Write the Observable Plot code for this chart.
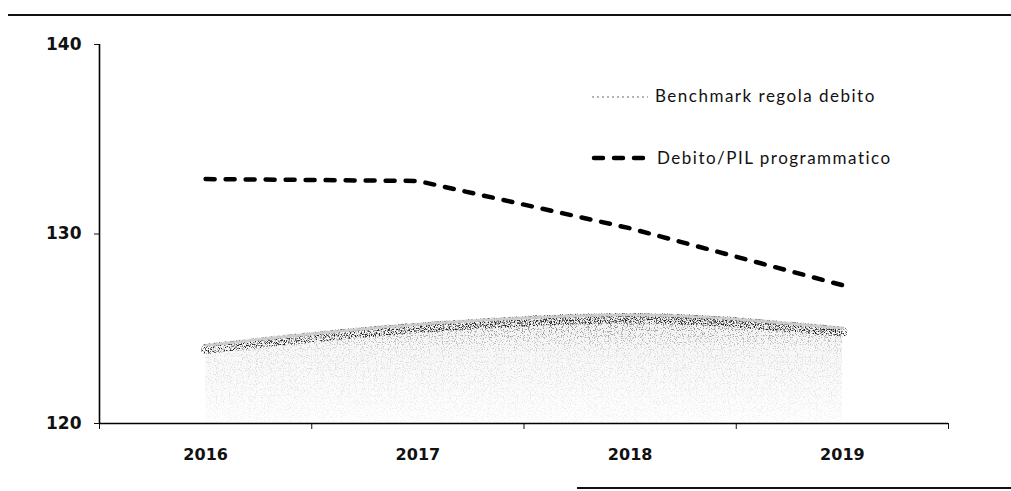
<!DOCTYPE html>
<html>
<head>
<meta charset="utf-8">
<script src="https://cdn.jsdelivr.net/npm/d3@7"></script>
<script src="https://cdn.jsdelivr.net/npm/@observablehq/plot@0.6"></script>
<style>
  html, body { margin: 0; padding: 0; background: #fff; }
  #wrap { position: relative; width: 1011px; height: 491px; overflow: hidden; }
  #wrap svg { display: block; }
  .rule { position: absolute; background: #111; height: 2px; }
  .leg { position: absolute; font-family: Lato, "Open Sans", sans-serif; font-size: 17px; color: #111; letter-spacing: 1.5px; line-height: 20px; white-space: nowrap; }
  .sw { position: absolute; }
</style>
</head>
<body>
<div id="wrap"></div>
<script>
// ---- data ----
const years = [2016, 2017, 2018, 2019];
const benchmark = [124.2, 125.3, 125.8, 125.1];        // Benchmark regola debito
const debitoPil = [132.9, 132.8, 130.3, 127.3];        // Debito/PIL programmatico
const yTicks = [120, 130, 140];
const seriesNames = ["Benchmark regola debito", "Debito/PIL programmatico"];

(function () {
const rows = years.map((year, i) => ({year, benchmark: benchmark[i], debito: debitoPil[i]}));
const bounds = [years[0] - 0.5, ...years.map(y => y + 0.5)];
const yMin = yTicks[0], yMax = yTicks[yTicks.length - 1];

const chart = Plot.plot({
  width: 1011,
  height: 491,
  marginLeft: 99,
  marginRight: 63,
  marginTop: 44,
  marginBottom: 68,
  style: {fontFamily: "DejaVu Sans", fontWeight: "bold", fontSize: "16px", color: "#111", background: "#fff"},
  x: {type: "linear", domain: [bounds[0], bounds[bounds.length - 1]]},
  y: {domain: [yMin, yMax]},
  marks: [
    // light base of the stippled benchmark area
    Plot.areaY(rows, {x: "year", y1: yMin, y2: "benchmark", fill: "url(#stipBase)", curve: "monotone-x"}),
    // speckled darker layer (grain filter applied afterwards)
    Plot.areaY(rows, {x: "year", y1: yMin, y2: "benchmark", fill: "url(#stipDark)", curve: "monotone-x"}),
    Plot.lineY(rows, {x: "year", y: "benchmark", stroke: "#222222", strokeWidth: 10, dy: 5, curve: "monotone-x"}),
    Plot.lineY(rows, {x: "year", y: "benchmark", stroke: "#cccccc", strokeWidth: 2.5, dy: 1.5, curve: "monotone-x"}),
    // Debito/PIL programmatico
    Plot.lineY(rows, {x: "year", y: "debito", stroke: "#000", strokeWidth: 4.5, strokeDasharray: "9,11", strokeLinecap: "round"}),
    Plot.axisY({ticks: yTicks, tickSize: 5, tickPadding: 13, fontSize: 17, tickFormat: d => String(d), label: null}),
    Plot.axisX({ticks: years, tickSize: 0, tickPadding: 25, tickFormat: d => String(d), label: null}),
    Plot.axisX({ticks: bounds, tickSize: 6, tickFormat: () => "", label: null}),
    Plot.ruleX([bounds[0]], {y1: yMin, y2: yMax, stroke: "#000", strokeWidth: 1.6}),
    Plot.ruleY([yMin], {stroke: "#000", strokeWidth: 1.6})
  ]
});

const svg = d3.select(chart);
svg.insert("defs", ":first-child").html(`
  <linearGradient id="stipBase" x1="0" y1="0" x2="0" y2="1">
    <stop offset="0" stop-color="#efefef"/>
    <stop offset="0.3" stop-color="#f7f7f7"/>
    <stop offset="1" stop-color="#fefefe"/>
  </linearGradient>
  <linearGradient id="stipDark" x1="0" y1="0" x2="0" y2="1">
    <stop offset="0" stop-color="#333" stop-opacity="1"/>
    <stop offset="0.12" stop-color="#444" stop-opacity="0.6"/>
    <stop offset="0.35" stop-color="#666" stop-opacity="0.2"/>
    <stop offset="1" stop-color="#777" stop-opacity="0.07"/>
  </linearGradient>
  <filter id="grain" x="-5%" y="-30%" width="110%" height="160%" color-interpolation-filters="sRGB">
    <feTurbulence type="fractalNoise" baseFrequency="0.8" numOctaves="2" seed="7" result="noise"/>
    <feColorMatrix in="noise" type="matrix" values="0 0 0 0 0  0 0 0 0 0  0 0 0 0 0  6 0 0 0 -3.0" result="mask"/>
    <feComposite in="SourceGraphic" in2="mask" operator="in"/>
  </filter>
  <filter id="grainSparse" x="-5%" y="-10%" width="110%" height="120%" color-interpolation-filters="sRGB">
    <feTurbulence type="fractalNoise" baseFrequency="0.85" numOctaves="2" seed="3" result="noise"/>
    <feColorMatrix in="noise" type="matrix" values="0 0 0 0 0  0 0 0 0 0  0 0 0 0 0  8 0 0 0 -4.4" result="mask"/>
    <feComposite in="SourceGraphic" in2="mask" operator="in"/>
  </filter>`);
svg.selectAll('[fill="url(#stipDark)"]').attr("filter", "url(#grainSparse)");
svg.selectAll('[stroke="#222222"]').attr("filter", "url(#grain)");

const wrap = document.getElementById("wrap");
wrap.appendChild(chart);

// decorative rules of the page scan
const ruleTop = document.createElement("div");
ruleTop.className = "rule"; ruleTop.style.left = "8px"; ruleTop.style.right = "0"; ruleTop.style.top = "14px";
wrap.appendChild(ruleTop);
const ruleBot = document.createElement("div");
ruleBot.className = "rule"; ruleBot.style.left = "577px"; ruleBot.style.right = "0"; ruleBot.style.top = "487px";
wrap.appendChild(ruleBot);

// legend
const leg1 = document.createElement("div");
leg1.className = "leg"; leg1.style.left = "655px"; leg1.style.top = "86px"; leg1.textContent = seriesNames[0];
wrap.appendChild(leg1);
const leg2 = document.createElement("div");
leg2.className = "leg"; leg2.style.left = "657px"; leg2.style.top = "148px"; leg2.textContent = seriesNames[1];
wrap.appendChild(leg2);

const sw1 = document.createElementNS("http://www.w3.org/2000/svg", "svg");
sw1.setAttribute("class", "sw"); sw1.setAttribute("width", 60); sw1.setAttribute("height", 10);
sw1.style.left = "590px"; sw1.style.top = "92px";
sw1.innerHTML = `<line x1="2" x2="58" y1="5" y2="5" stroke="#b5b5b5" stroke-width="2" stroke-dasharray="2,3"/>`;
wrap.appendChild(sw1);
const sw2 = document.createElementNS("http://www.w3.org/2000/svg", "svg");
sw2.setAttribute("class", "sw"); sw2.setAttribute("width", 60); sw2.setAttribute("height", 12);
sw2.style.left = "590px"; sw2.style.top = "152px";
sw2.innerHTML = `<line x1="4" x2="54" y1="6" y2="6" stroke="#000" stroke-width="4.5" stroke-dasharray="9,11" stroke-linecap="round"/>`;
wrap.appendChild(sw2);
})();
</script>
</body>
</html>
